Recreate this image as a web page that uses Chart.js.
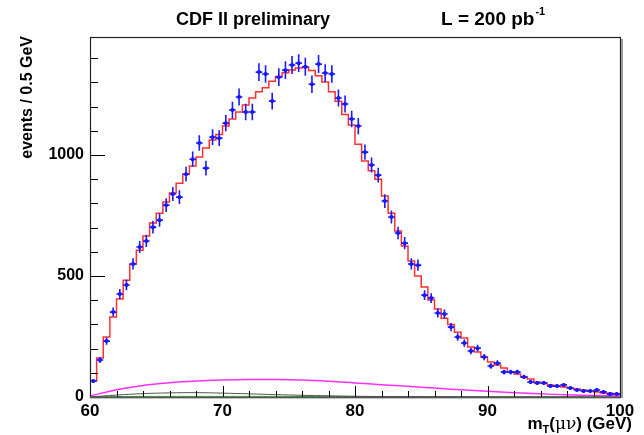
<!DOCTYPE html>
<html>
<head>
<meta charset="utf-8">
<script src="https://cdn.jsdelivr.net/npm/chart.js@4.4.0/dist/chart.umd.min.js"></script>
<style>
  html, body { margin: 0; padding: 0; background: #ffffff; }
  canvas { display: block; }
</style>
</head>
<body>
<canvas id="mtChart" width="644" height="435"></canvas>
<script>
// binning of the histogram (GeV)
const binStart = 60;
const binWidth = 0.5;

// data: events per bin, 60.25 ... 99.75
const dataCounts = [
  66, 153, 231, 351, 426, 463, 550, 620, 645, 702,
  731, 793, 839, 826, 921, 983, 1050, 946, 1074, 1070,
  1132, 1186, 1240, 1178, 1178, 1343, 1335, 1223, 1322, 1351,
  1372, 1380, 1365, 1293, 1376, 1339, 1335, 1236, 1211, 1149,
  1120, 1012, 959, 917, 810, 744, 678, 636, 550, 545,
  421, 409, 347, 343, 289, 248, 223, 190, 202, 165,
  128, 140, 103, 103, 103, 83, 62, 58, 58, 45,
  45, 50, 37, 29, 25, 25, 29, 21, 12, 12
];

// simulation (red histogram)
const mcCounts = [
  66, 161, 248, 331, 405, 483, 550, 607, 665, 719,
  760, 806, 843, 884, 921, 955, 992, 1029, 1062, 1085,
  1120, 1149, 1178, 1207, 1236, 1262, 1278, 1305, 1325, 1340,
  1352, 1360, 1362, 1350, 1328, 1302, 1262, 1222, 1168, 1124,
  1045, 975, 935, 900, 831, 760, 686, 624, 562, 500,
  455, 401, 364, 326, 300, 268, 244, 207, 186, 165,
  145, 132, 120, 103, 95, 83, 74, 62, 58, 50,
  45, 41, 37, 33, 29, 25, 21, 17, 15, 12
];

// backgrounds
const bgX = [60, 62, 64, 66, 68, 70, 72, 74, 76, 78, 80, 82, 84, 86, 88, 90, 92, 94, 96, 98, 100];
const bgMagenta = [4, 30, 48, 59, 66, 70, 72, 72, 70, 65, 58, 51, 44, 37, 30, 24, 18, 13, 9, 6, 4];
const bgGray = [0, 8, 14, 17, 18, 16, 13, 10, 7, 5, 3, 2, 1.5, 1, 0.7, 0.5, 0.3, 0.2, 0.1, 0, 0];
const bgGreen = [1, 2, 2.5, 2.5, 2.5, 2.5, 2.5, 2.5, 2, 2, 2, 1.5, 1.5, 1.5, 1, 1, 1, 1, 1, 1, 1];

const xTicks = [60, 70, 80, 90, 100];
const yTicks = [0, 500, 1000];
const yMax = 1488;

const FONT = "'Liberation Sans', Arial, sans-serif";

const binCenters = dataCounts.map((v, i) => binStart + binWidth * (i + 0.5));
const binEdges = mcCounts.map((v, i) => binStart + binWidth * i);

const dataPoints = dataCounts.map((v, i) => ({ x: binCenters[i], y: v }));
const mcPoints = mcCounts.map((v, i) => ({ x: binEdges[i], y: v }));
mcPoints.push({ x: binStart + binWidth * mcCounts.length, y: mcCounts[mcCounts.length - 1] });

const toXY = (ys) => ys.map((v, i) => ({ x: bgX[i], y: v }));

// error bars on the data points
const errorBars = {
  id: "errorBars",
  afterDatasetsDraw(chart) {
    const { ctx, scales: { x, y } } = chart;
    ctx.save();
    ctx.strokeStyle = "#1a1aff";
    ctx.lineWidth = 1.6;
    dataCounts.forEach((v, i) => {
      const cx = x.getPixelForValue(binCenters[i]);
      const x0 = x.getPixelForValue(binCenters[i] - binWidth / 2);
      const x1 = x.getPixelForValue(binCenters[i] + binWidth / 2);
      const err = Math.sqrt(v);
      const cy = y.getPixelForValue(v);
      const yTop = y.getPixelForValue(v + err);
      const yBot = y.getPixelForValue(Math.max(v - err, 0));
      ctx.beginPath();
      ctx.moveTo(cx, yTop);
      ctx.lineTo(cx, yBot);
      ctx.moveTo(x0, cy);
      ctx.lineTo(x1, cy);
      ctx.stroke();
    });
    ctx.restore();
  },
};

// ROOT style frame, inner ticks and texts
const frameAndText = {
  id: "frameAndText",
  afterDraw(chart) {
    const { ctx, chartArea: a, scales: { x, y } } = chart;
    ctx.save();
    ctx.strokeStyle = "#000000";
    ctx.lineWidth = 1;

    // x ticks (every 2 GeV, major every 10)
    for (let v = 60; v <= 100; v += 2) {
      const px = Math.round(x.getPixelForValue(v)) + 0.5;
      const len = v % 10 === 0 ? 11 : 6;
      ctx.beginPath();
      ctx.moveTo(px, a.bottom);
      ctx.lineTo(px, a.bottom - len);
      ctx.stroke();
    }
    // y ticks (every 100, major every 500)
    for (let v = 0; v <= yMax; v += 100) {
      const py = Math.round(y.getPixelForValue(v)) + 0.5;
      const len = v % 500 === 0 ? 15 : 8;
      ctx.beginPath();
      ctx.moveTo(a.left, py);
      ctx.lineTo(a.left + len, py);
      ctx.stroke();
    }

    // frame
    ctx.strokeStyle = "#222222";
    ctx.lineWidth = 1.2;
    ctx.strokeRect(a.left + 0.5, a.top + 0.5, a.right - a.left, a.bottom - a.top);
    ctx.strokeStyle = "#9a9a9a";
    ctx.lineWidth = 2;
    ctx.beginPath();
    ctx.moveTo(a.right + 2, a.top + 2);
    ctx.lineTo(a.right + 2, a.bottom + 1);
    ctx.stroke();
    ctx.strokeStyle = "#555555";
    ctx.lineWidth = 1.5;
    ctx.beginPath();
    ctx.moveTo(a.left, a.bottom + 0.5);
    ctx.lineTo(a.right, a.bottom + 0.5);
    ctx.stroke();

    ctx.fillStyle = "#000000";
    ctx.textBaseline = "alphabetic";

    // header
    ctx.font = `bold 18px ${FONT}`;
    ctx.textAlign = "left";
    ctx.fillText("CDF II preliminary", 176, 25);
    const lText = "L = 200 pb";
    ctx.font = `bold 19px ${FONT}`;
    ctx.fillText(lText, 441, 25);
    const lw = ctx.measureText(lText).width;
    ctx.font = `bold 11px ${FONT}`;
    ctx.fillText("-1", 441 + lw + 1, 15);

    // y title
    ctx.save();
    ctx.translate(32, 36);
    ctx.rotate(-Math.PI / 2);
    ctx.font = `bold 16px ${FONT}`;
    ctx.textAlign = "right";
    ctx.fillText("events / 0.5 GeV", 0, 0);
    ctx.restore();

    // x title: m_T(mu nu) (GeV), right aligned just past the frame edge
    const parts = [
      { t: "m", f: `bold 17px ${FONT}`, dy: 0 },
      { t: "T", f: `bold 11px ${FONT}`, dy: 4 },
      { t: "(", f: `bold 17px ${FONT}`, dy: 0 },
      { t: "\u03bc\u03bd", f: `17px 'DejaVu Serif', serif`, dy: 0 },
      { t: ") (GeV)", f: `bold 17px ${FONT}`, dy: 0 },
    ];
    let total = 0;
    parts.forEach((p) => { ctx.font = p.f; p.w = ctx.measureText(p.t).width; total += p.w; });
    let tx = 632 - total;
    ctx.textAlign = "left";
    parts.forEach((p) => {
      ctx.font = p.f;
      ctx.fillText(p.t, tx, 429 + p.dy);
      tx += p.w;
    });
    ctx.restore();
  },
};

const ctx = document.getElementById("mtChart").getContext("2d");

new Chart(ctx, {
  type: "scatter",
  data: {
    datasets: [
      {
        label: "data",
        data: dataPoints,
        backgroundColor: "#0000ff",
        borderColor: "#0000ff",
        pointRadius: 2,
        pointBorderWidth: 0,
        order: 0,
      },
      {
        label: "simulation",
        type: "line",
        data: mcPoints,
        borderColor: "#ff3030",
        borderWidth: 1.5,
        stepped: "before",
        pointRadius: 0,
        fill: false,
        order: 1,
      },
      {
        label: "background 1",
        type: "line",
        data: toXY(bgMagenta),
        borderColor: "#ff30ff",
        borderWidth: 1.5,
        tension: 0.4,
        pointRadius: 0,
        fill: false,
        order: 2,
      },
      {
        label: "background 2",
        type: "line",
        data: toXY(bgGray),
        borderColor: "#555555",
        borderWidth: 1,
        tension: 0.4,
        pointRadius: 0,
        fill: false,
        order: 3,
      },
      {
        label: "background 3",
        type: "line",
        data: toXY(bgGreen),
        borderColor: "#33aa33",
        borderWidth: 1,
        tension: 0.4,
        pointRadius: 0,
        fill: false,
        order: 4,
      },
    ],
  },
  options: {
    responsive: false,
    devicePixelRatio: 1,
    animation: false,
    layout: { padding: { top: 37, right: 24, left: 0, bottom: 0 } },
    plugins: {
      legend: { display: false },
      tooltip: { enabled: false },
    },
    scales: {
      x: {
        type: "linear",
        min: 60,
        max: 100,
        afterBuildTicks: (scale) => { scale.ticks = xTicks.map((v) => ({ value: v })); },
        afterFit: (scale) => { scale.height = 38; },
        grid: { display: false, drawTicks: false },
        border: { display: false },
        ticks: {
          padding: 4,
          color: "#000000",
          font: { family: FONT, size: 17, weight: "bold" },
          callback: (v) => String(v),
        },
      },
      y: {
        type: "linear",
        min: 0,
        max: yMax,
        afterBuildTicks: (scale) => { scale.ticks = yTicks.map((v) => ({ value: v })); },
        afterFit: (scale) => { scale.width = 90; },
        grid: { display: false, drawTicks: false },
        border: { display: false },
        ticks: {
          padding: 6,
          color: "#000000",
          font: { family: FONT, size: 16, weight: "bold" },
          callback: (v) => String(v),
        },
      },
    },
  },
  plugins: [errorBars, frameAndText],
});
</script>
</body>
</html>
